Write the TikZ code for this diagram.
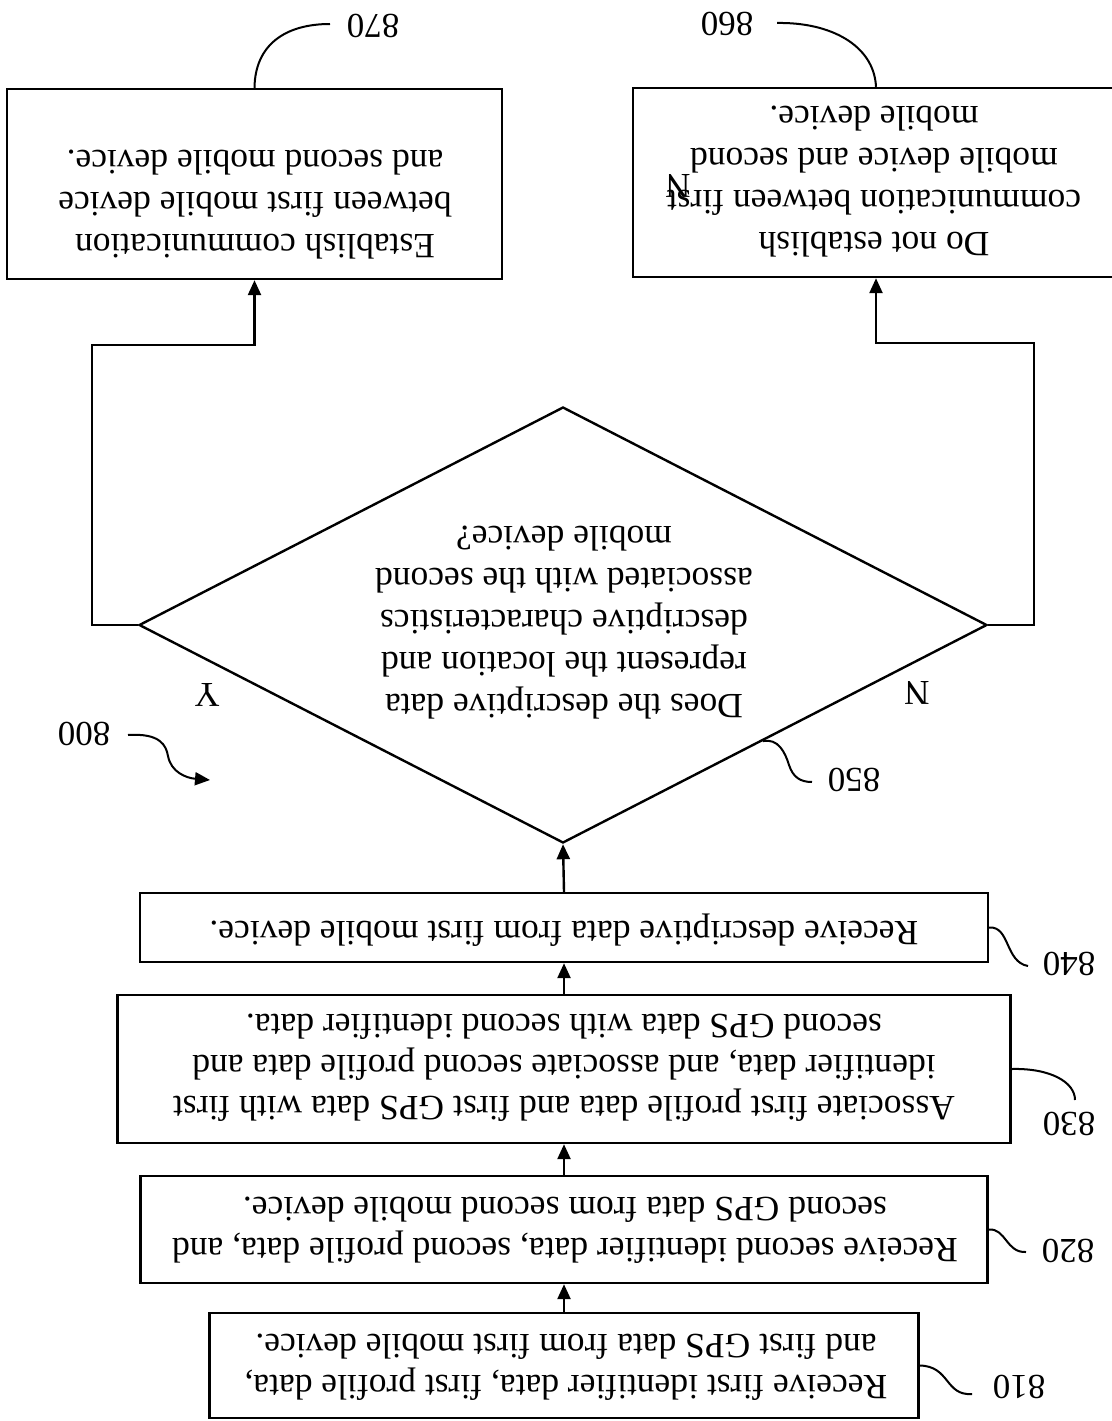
\documentclass[tikz,border=0pt]{standalone}
\usepackage{fontspec}
\setmainfont{Liberation Serif}
\usetikzlibrary{arrows.meta,shapes.geometric,calc}
\begin{document}
\begin{tikzpicture}[x=1pt,y=-1pt,
  line width=2.4pt,
  stepbox/.style={draw, rectangle, inner sep=0pt},
  flip/.style={rotate=180, inner sep=0pt, align=center, font=\fontsize{35.5}{42}\selectfont},
  fliptight/.style={flip, font=\fontsize{35.5}{41}\selectfont},
  reflabel/.style={rotate=180, inner sep=0pt, font=\fontsize{35}{40}\selectfont},
  flow/.style={-{Triangle[length=15pt,width=13pt]}},
  lead/.style={line width=2pt}]

\useasboundingbox (0,0) rectangle (1111,1421);

% process boxes (the flow runs bottom to top, the whole figure upside down)
\node[stepbox, minimum width=709pt, minimum height=105pt] (b810) at (564,1365.5) {};
\node[stepbox, minimum width=847pt, minimum height=107pt] (b820) at (564,1229.5) {};
\node[stepbox, minimum width=893pt, minimum height=148pt] (b830) at (564,1069) {};
\node[stepbox, minimum width=848pt, minimum height=69pt]  (b840) at (564,927.5) {};
\node[draw, diamond, inner sep=0pt, minimum width=848pt, minimum height=436pt] (dia) at (563,625) {};
\node[stepbox, minimum width=495pt, minimum height=190pt] (b870) at (254.5,184) {};
\node[stepbox, minimum width=486pt, minimum height=189pt] (b860) at (876,182.5) {};

% texts
\node[fliptight] (t810) at (566,1367) {Receive first identifier data, first profile data,\\and first GPS data from first mobile device.};
\node[fliptight] (t820) at (565,1230) {Receive second identifier data, second profile data, and\\second GPS data from second mobile device.};
\node[fliptight] (t830) at (564,1068) {Associate first profile data and first GPS data with first\\identifier data, and associate second profile data and\\second GPS data with second identifier data.};
\node[fliptight] (t840) at (564,930) {Receive descriptive data from first mobile device.};
\node[flip] (tdia) at (564,623) {Does the descriptive data\\represent the location and\\descriptive characteristics\\associated with the second\\mobile device?};
\node[flip] (t870) at (255,205) {Establish communication\\between first mobile device\\and second mobile device.};
\node[flip] (t860) at (874,182) {Do not establish\\communication between first\\mobile device and second\\mobile device.};
\node[reflabel] (nstray) at (678,186) {N};

% branch labels
\node[reflabel] (lY) at (207,695) {Y};
\node[reflabel] (lN) at (917,693) {N};

% connectors
\draw[flow] (b810.north) -- (b820.south);
\draw[flow] (b820.north) -- (b830.south);
\draw[flow] (b830.north) -- (b840.south);
\draw[flow] (b840.north) -- (dia.south);
\coordinate (cL) at (92,345);
\coordinate (cR) at (1034,343);
\draw[flow] (dia.west) -| (cL) -| (b870.south);
\draw[flow] (dia.east) -| (cR) -| (b860.south);

% reference numerals and their leaders
\node[reflabel] (r810) at (1019,1387) {810};
\node[reflabel] (r820) at (1068,1251) {820};
\node[reflabel] (r830) at (1069,1124) {830};
\node[reflabel] (r840) at (1069,964) {840};
\node[reflabel] (r850) at (854,780) {850};
\node[reflabel] (r870) at (373,26) {870};
\node[reflabel] (r860) at (727,24) {860};
\node[reflabel] (r800) at (84,734) {800};

\coordinate (e810) at (972,1394);
\coordinate (e820) at (1026,1252);
\coordinate (e830) at (1075,1100);
\coordinate (e840) at (1028,966);
\coordinate (e850) at (812,782);
\coordinate (e870) at (330,24);
\coordinate (e860) at (777,23);
\coordinate (s800) at (128,735);
\coordinate (t800) at (210,780);
\coordinate (p850) at ($(dia.south)!0.47!(dia.east)$);

\draw[lead] (b810.east) .. controls (950,1366) and (945,1396) .. (e810);
\draw[lead] (b820.east) .. controls (1006,1228) and (1006,1253) .. (e820);
\draw[lead] (b830.east) .. controls (1050,1068) and (1075,1082) .. (e830);
\draw[lead] (b840.east) .. controls (1010,926) and (1005,962) .. (e840);
\draw[lead] (p850) .. controls (778,738) and (785,752) .. (789,765) .. controls (793,777) and (800,782) .. (e850);
\draw[lead] (b870.north) .. controls (255,45) and (285,24) .. (e870);
\draw[lead] (e860) .. controls (830,22) and (874,45) .. (b860.north);
\draw[lead, -{Triangle[length=15pt,width=13pt]}] (s800) .. controls (160,733) and (166,745) .. (168,756) .. controls (171,772) and (186,778) .. (t800);
\end{tikzpicture}
\end{document}
